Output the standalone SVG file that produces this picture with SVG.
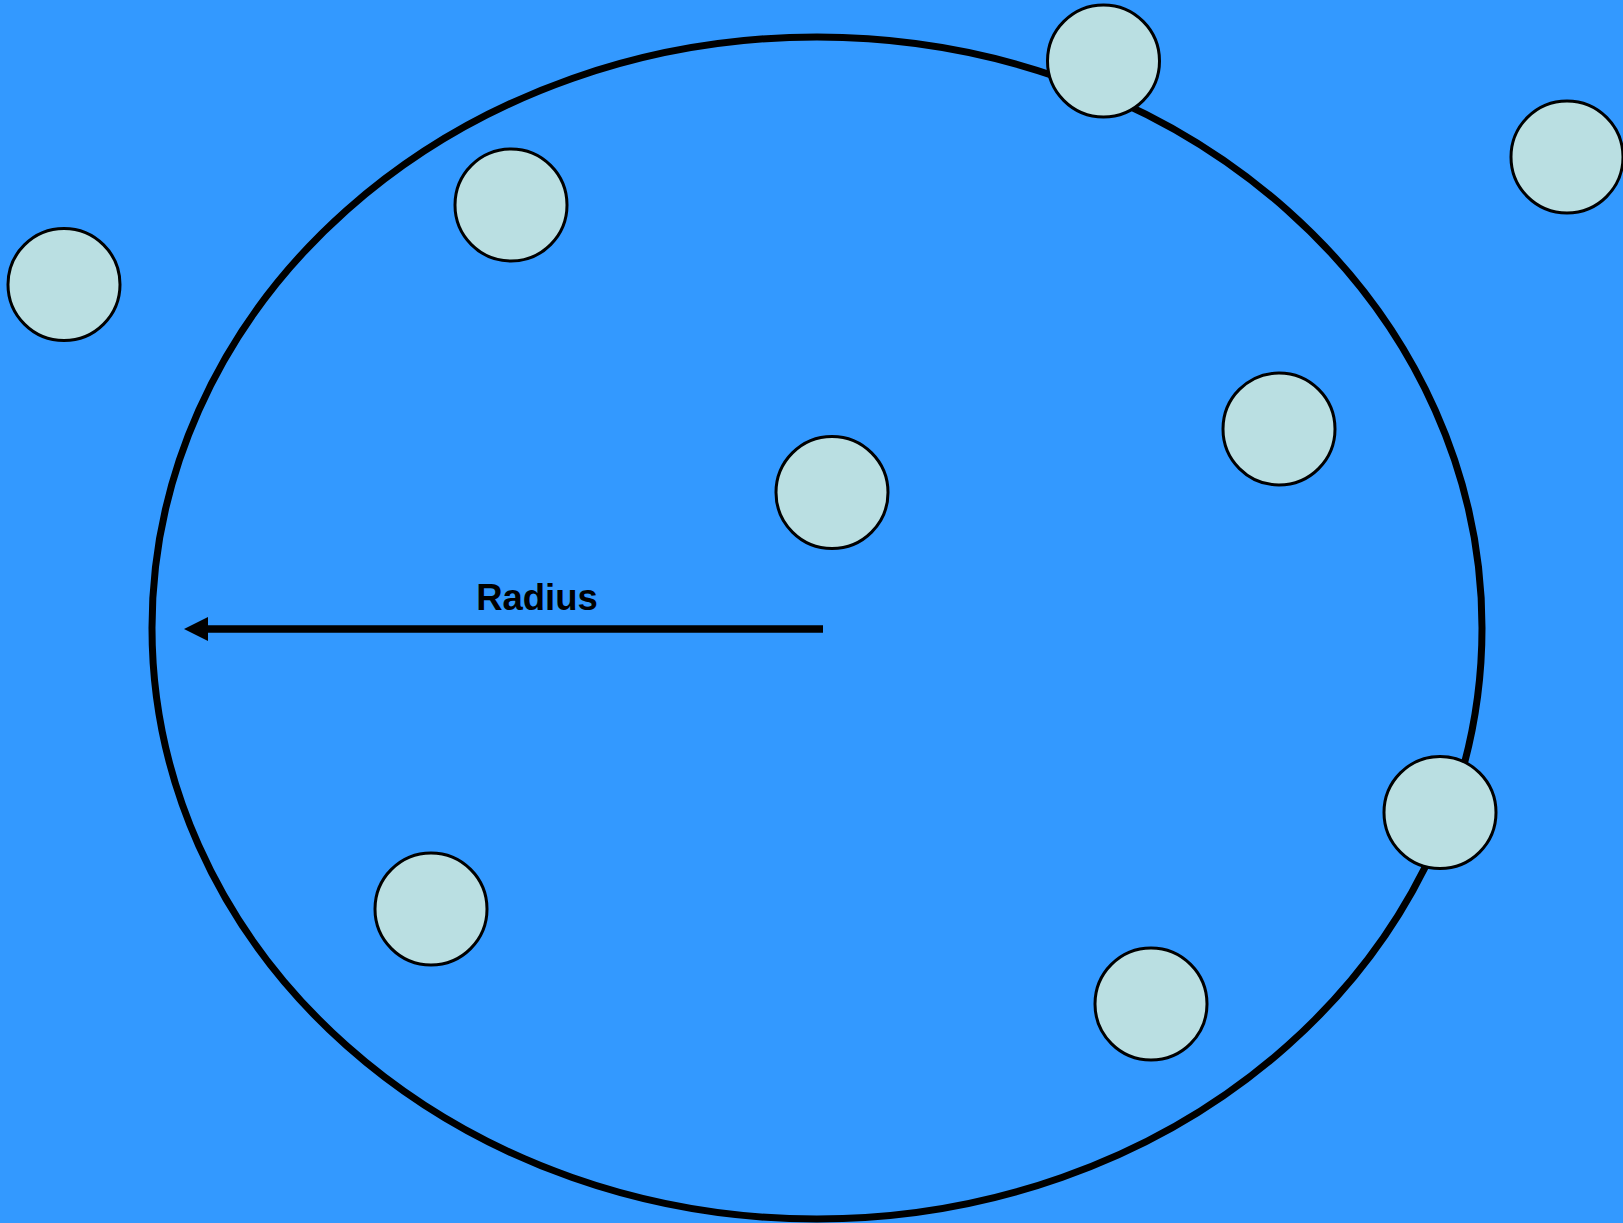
<svg xmlns="http://www.w3.org/2000/svg" width="1623" height="1223" viewBox="0 0 1623 1223">
<style>
.ball{fill:#badfe2;stroke:#000;stroke-width:3}
.lbl{font-family:"Liberation Sans",Arial,sans-serif;font-weight:bold;font-size:36.5px;fill:#000}
</style>
<defs>
<marker id="ah" markerWidth="24" markerHeight="24" viewBox="0 0 24 24" refX="0" refY="12" orient="auto" markerUnits="userSpaceOnUse">
<path d="M0,0 L24,12 L0,24 Z" fill="#000"/>
</marker>
</defs>
<rect width="1623" height="1223" fill="#3399ff"/>
<g id="boundary">
<ellipse cx="817" cy="628" rx="665" ry="591" fill="none" stroke="#000" stroke-width="7"/>
</g>
<g id="connectors">
<line x1="823" y1="629" x2="208" y2="629" stroke="#000" stroke-width="7.5" marker-end="url(#ah)"/>
<text class="lbl" x="537" y="610" text-anchor="middle">Radius</text>
</g>
<g id="n1"><circle class="ball" cx="1103.5" cy="61" r="56"/></g>
<g id="n2"><circle class="ball" cx="1567" cy="157" r="56"/></g>
<g id="n3"><circle class="ball" cx="511" cy="205" r="56"/></g>
<g id="n4"><circle class="ball" cx="64" cy="284.5" r="56"/></g>
<g id="n5"><circle class="ball" cx="1279" cy="429" r="56"/></g>
<g id="n6"><circle class="ball" cx="832" cy="492.5" r="56"/></g>
<g id="n7"><circle class="ball" cx="1440" cy="812.5" r="56"/></g>
<g id="n8"><circle class="ball" cx="431" cy="909" r="56"/></g>
<g id="n9"><circle class="ball" cx="1151" cy="1004" r="56"/></g>
</svg>
